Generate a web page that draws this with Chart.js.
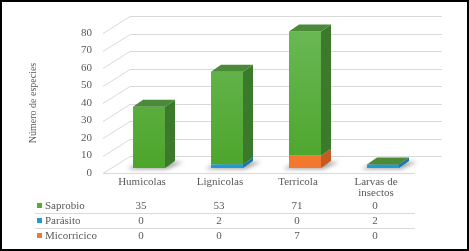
<!DOCTYPE html>
<html>
<head>
<meta charset="utf-8">
<script src="https://cdn.jsdelivr.net/npm/chart.js@4.4.1/dist/chart.umd.min.js"></script>
<style>
  html, body { margin: 0; padding: 0; background: #fff; }
  #grafico { display: block; }
</style>
</head>
<body>
<canvas id="grafico" width="469" height="251"></canvas>
<script>
// datos
const categorias = [['Humicolas'], ['Lignicolas'], ['Terricola'], ['Larvas de', 'insectos']];
const saprobio = [35, 53, 71, 0];
const parasito = [0, 2, 0, 2];
const micorricico = [0, 0, 7, 0];
const ticksY = [0, 10, 20, 30, 40, 50, 60, 70, 80];

const fuente = 'Liberation Serif, Times New Roman, serif';
const gris = '#595959';

// desplazamientos del efecto 3D
const DX = 27, DY = 17;   // pared del fondo
const BX = 7, BY = 5;     // cara frontal de las barras
const SX = 10, SY = 7;    // profundidad de la barra

const series = [
  { label: 'Micorricico', data: micorricico, frente: '#F2772F', lado: '#C65A25', arriba: '#D8662A' },
  { label: 'Parásito', data: parasito, frente: '#1E9BD7', lado: '#1976AD', arriba: '#1A86C0' },
  { label: 'Saprobio', data: saprobio, frente: null, lado: '#3A7A2A', arriba: '#4A8A38' }
];
// orden de las filas de la tabla
const filasTabla = [series[2], series[1], series[0]];

function verde(c) {
  const area = c.chart.chartArea;
  if (!area) return '#55AD33';
  const g = c.chart.ctx.createLinearGradient(0, area.top, 0, area.bottom);
  g.addColorStop(0, '#6AB855');
  g.addColorStop(1, '#4CA52B');
  return g;
}

const efecto3d = {
  id: 'efecto3d',
  beforeDraw(chart) {
    const ctx = chart.ctx;
    ctx.save();
    ctx.fillStyle = '#fff';
    ctx.fillRect(0, 0, chart.width, chart.height);
    ctx.restore();
  },
  beforeDatasetsDraw(chart) {
    const { ctx, chartArea: a, scales: { y } } = chart;
    ctx.save();
    ctx.strokeStyle = '#D9D9D9';
    ctx.lineWidth = 1;
    ctx.beginPath();
    ticksY.forEach(v => {
      const py = Math.round(y.getPixelForValue(v)) + 0.5;
      ctx.moveTo(a.left, py);
      ctx.lineTo(a.left + DX, py - DY);
      ctx.lineTo(a.right + DX, py - DY);
    });
    const pb = Math.round(a.bottom) + 0.5;
    ctx.moveTo(a.left, pb);
    ctx.lineTo(a.right, pb);
    ctx.stroke();

    // sombras en el piso
    const meta = chart.getDatasetMeta(series.length - 1);
    ctx.filter = 'blur(2px)';
    ctx.fillStyle = 'rgba(40,40,40,0.45)';
    meta.data.forEach(bar => {
      const x = bar.x + BX, w = bar.width;
      const base = a.bottom - BY;
      const l = x - w / 2, r = x + w / 2;
      ctx.beginPath();
      ctx.moveTo(l - 6, base + 1);
      ctx.lineTo(r + 2, base + 1);
      ctx.lineTo(r + SX + 8, base - SY + 1);
      ctx.lineTo(l + SX, base - SY + 1);
      ctx.closePath();
      ctx.fill();
    });
    ctx.filter = 'none';
    ctx.restore();

    ctx.save();
    ctx.translate(BX, -BY);
  },
  afterDatasetsDraw(chart) {
    const ctx = chart.ctx;
    series.forEach((s, di) => {
      const meta = chart.getDatasetMeta(di);
      meta.data.forEach(bar => {
        const { x, y, base, width } = bar.getProps(['x', 'y', 'base', 'width'], true);
        const l = x - width / 2, r = x + width / 2;
        if (base - y > 0.5) {
          ctx.fillStyle = s.lado;
          ctx.beginPath();
          ctx.moveTo(r, y);
          ctx.lineTo(r + SX, y - SY);
          ctx.lineTo(r + SX, base - SY);
          ctx.lineTo(r, base);
          ctx.closePath();
          ctx.fill();
        }
        if (di === series.length - 1) {
          ctx.fillStyle = s.arriba;
          ctx.beginPath();
          ctx.moveTo(l, y);
          ctx.lineTo(l + SX, y - SY);
          ctx.lineTo(r + SX, y - SY);
          ctx.lineTo(r, y);
          ctx.closePath();
          ctx.fill();
        }
      });
    });
    ctx.restore();
  },
  afterDraw(chart) {
    const { ctx, scales: { x } } = chart;
    ctx.save();
    // tabla de datos
    const filasY = [206, 221, 236];
    ctx.font = '11px ' + fuente;
    ctx.textBaseline = 'middle';
    filasTabla.forEach((s, k) => {
      const py = filasY[k];
      ctx.fillStyle = s.frente || '#55AD33';
      ctx.fillRect(37, py - 3, 5, 5);
      ctx.fillStyle = gris;
      ctx.textAlign = 'left';
      ctx.fillText(s.label, 45, py);
      ctx.textAlign = 'center';
      s.data.forEach((v, i) => {
        ctx.fillText(String(v), x.getPixelForValue(i) - 1, py);
      });
    });
    ctx.strokeStyle = '#D9D9D9';
    ctx.lineWidth = 1;
    ctx.beginPath();
    [213.5, 228.5].forEach(py => {
      ctx.moveTo(35, py);
      ctx.lineTo(chart.chartArea.right, py);
    });
    ctx.stroke();

    // marco
    ctx.strokeStyle = '#000';
    ctx.lineWidth = 2;
    ctx.strokeRect(1, 1, chart.width - 2, chart.height - 2);
    ctx.restore();
  }
};

const ctx = document.getElementById('grafico').getContext('2d');

const myChart = new Chart(ctx, {
  type: 'bar',
  data: {
    labels: categorias,
    datasets: series.map(s => ({
      label: s.label,
      data: s.data,
      backgroundColor: s.frente || verde,
      borderWidth: 0,
      barPercentage: 0.41,
      categoryPercentage: 1,
      clip: false
    }))
  },
  options: {
    responsive: false,
    animation: false,
    layout: { padding: { left: 0, right: 54, top: 33, bottom: 0 } },
    plugins: {
      legend: { display: false },
      tooltip: { enabled: false }
    },
    scales: {
      x: {
        stacked: true,
        grid: { display: false, drawTicks: false },
        border: { display: false },
        ticks: {
          color: gris,
          padding: 4,
          maxRotation: 0,
          autoSkip: false,
          font: { family: fuente, size: 11, lineHeight: 1 }
        },
        afterFit(scale) { scale.height = 78; }
      },
      y: {
        stacked: true,
        min: 0,
        max: 80,
        grid: { display: false, drawTicks: false },
        border: { display: false },
        ticks: {
          stepSize: 10,
          color: gris,
          padding: 11,
          font: { family: fuente, size: 11 }
        },
        title: {
          display: true,
          text: 'Número de especies',
          color: gris,
          padding: { top: 27, bottom: 0 },
          font: { family: fuente, size: 10 }
        },
        afterFit(scale) { scale.width = 103; }
      }
    }
  },
  plugins: [efecto3d]
});
</script>
</body>
</html>
